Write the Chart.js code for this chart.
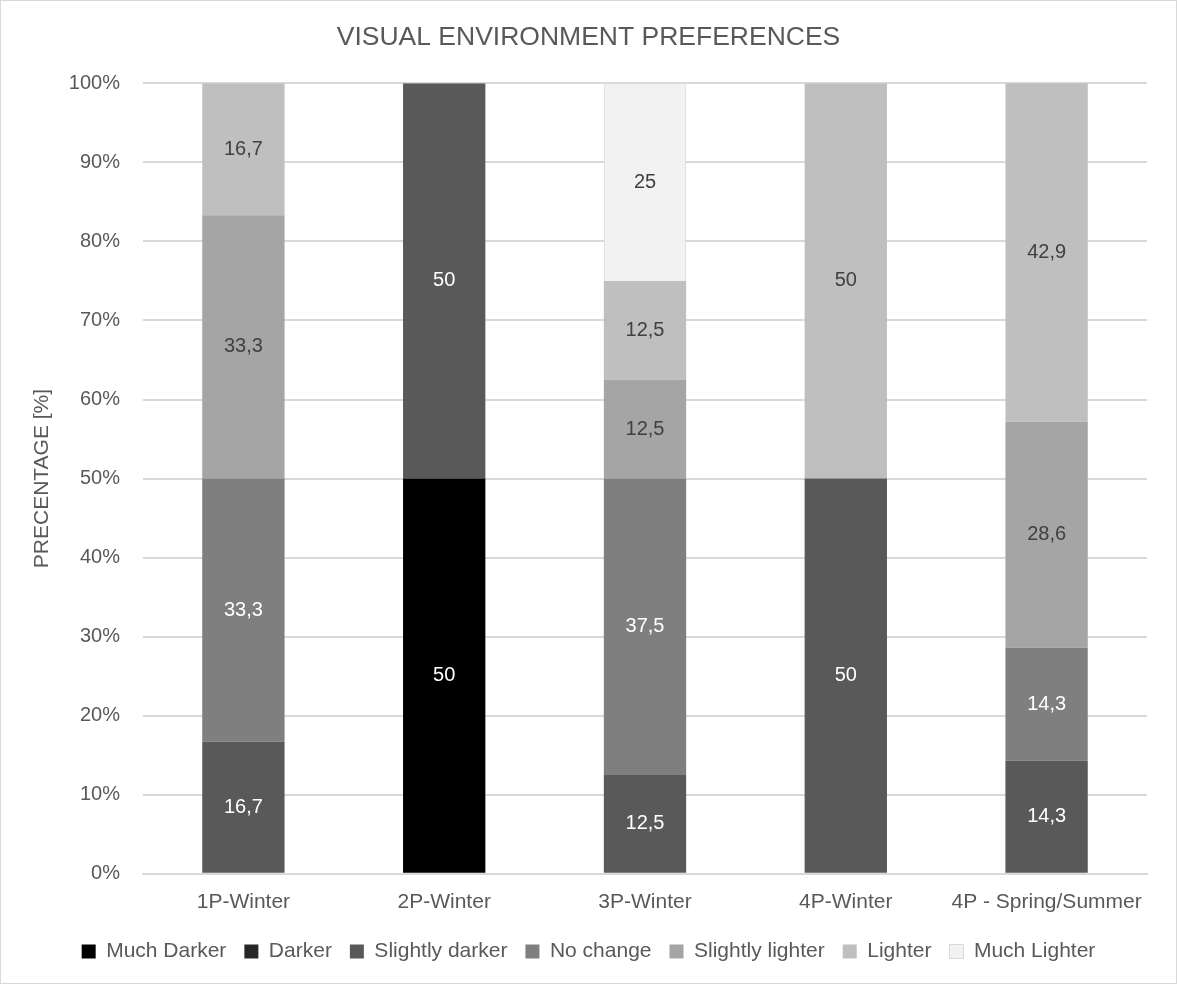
<!DOCTYPE html>
<html>
<head>
<meta charset="utf-8">
<script src="https://cdn.jsdelivr.net/npm/chart.js@4"></script>
<style>
  body { margin: 0; background: #fff; }
  #wrap { width: 1175px; height: 982px; border: 1px solid #d9d9d9; }
</style>
</head>
<body>
<div id="wrap"><canvas id="prefChart" width="1175" height="982"></canvas></div>
<script>
// categories and series (percent of answers)
const categories = ['1P-Winter', '2P-Winter', '3P-Winter', '4P-Winter', '4P - Spring/Summer'];
const muchDarker = [0, 50, 0, 0, 0];
const darker = [0, 0, 0, 0, 0];
const slightlyDarker = [16.7, 50, 12.5, 50, 14.3];
const noChange = [33.3, 0, 37.5, 0, 14.3];
const slightlyLighter = [33.3, 0, 12.5, 0, 28.6];
const lighter = [16.7, 0, 12.5, 50, 42.9];
const muchLighter = [0, 0, 25, 0, 0];
const yTicks = [0, 10, 20, 30, 40, 50, 60, 70, 80, 90, 100];

const textFont = "'Liberation Sans', Arial, sans-serif";

function series(label, data, color, labelColor, border) {
    return {
        label: label,
        data: data,
        backgroundColor: color,
        borderColor: border || color,
        borderWidth: border ? 1 : 0,
        labelColor: labelColor,
        barPercentage: 0.41,
        categoryPercentage: 1.0
    };
}

// writes each segment's value in the middle of the bar
const valueLabels = {
    id: 'valueLabels',
    afterDatasetsDraw(chart) {
        const ctx = chart.ctx;
        ctx.save();
        ctx.font = '20px ' + textFont;
        ctx.textAlign = 'center';
        ctx.textBaseline = 'middle';
        chart.data.datasets.forEach((ds, i) => {
            const meta = chart.getDatasetMeta(i);
            meta.data.forEach((bar, j) => {
                const v = ds.data[j];
                if (!v) return;
                ctx.fillStyle = ds.labelColor;
                ctx.fillText(String(v).replace('.', ','), bar.x, (bar.y + bar.base) / 2);
            });
        });
        ctx.restore();
    }
};

new Chart(document.getElementById('prefChart'), {
    type: 'bar',
    data: {
        labels: categories,
        datasets: [
            series('Much Darker', muchDarker, '#000000', '#ffffff'),
            series('Darker', darker, '#262626', '#ffffff'),
            series('Slightly darker', slightlyDarker, '#595959', '#ffffff'),
            series('No change', noChange, '#7f7f7f', '#ffffff'),
            series('Slightly lighter', slightlyLighter, '#a5a5a5', '#404040'),
            series('Lighter', lighter, '#bfbfbf', '#404040'),
            series('Much Lighter', muchLighter, '#f2f2f2', '#404040', '#d9d9d9')
        ]
    },
    options: {
        responsive: false,
        animation: false,
        layout: { padding: { top: 0, left: 29, right: 29, bottom: 11 } },
        scales: {
            x: {
                stacked: true,
                grid: { display: false },
                border: { color: '#d9d9d9', width: 2 },
                ticks: { color: '#595959', font: { size: 21, family: textFont }, padding: 8 }
            },
            y: {
                stacked: true,
                min: 0,
                max: 100,
                afterBuildTicks(axis) { axis.ticks = yTicks.map(v => ({ value: v })); },
                afterFit(axis) { axis.width = 113; },
                grid: { color: '#d9d9d9', lineWidth: 2, drawTicks: false },
                border: { display: false },
                ticks: {
                    color: '#595959',
                    font: { size: 20, family: textFont },
                    padding: 23,
                    callback: v => v + '%'
                },
                title: {
                    display: true,
                    text: 'PRECENTAGE [%]',
                    color: '#595959',
                    font: { size: 21, family: textFont },
                    padding: { top: 0, bottom: 0 }
                }
            }
        },
        plugins: {
            title: {
                display: true,
                text: 'VISUAL ENVIRONMENT PREFERENCES',
                color: '#595959',
                font: { size: 26.5, family: textFont, weight: 'normal' },
                padding: { top: 21, bottom: 29.5 }
            },
            legend: {
                position: 'bottom',
                labels: {
                    color: '#595959',
                    font: { size: 21, family: textFont },
                    boxWidth: 14,
                    boxHeight: 14,
                    padding: 18
                }
            },
            tooltip: { enabled: false }
        }
    },
    plugins: [valueLabels]
});
</script>
</body>
</html>
